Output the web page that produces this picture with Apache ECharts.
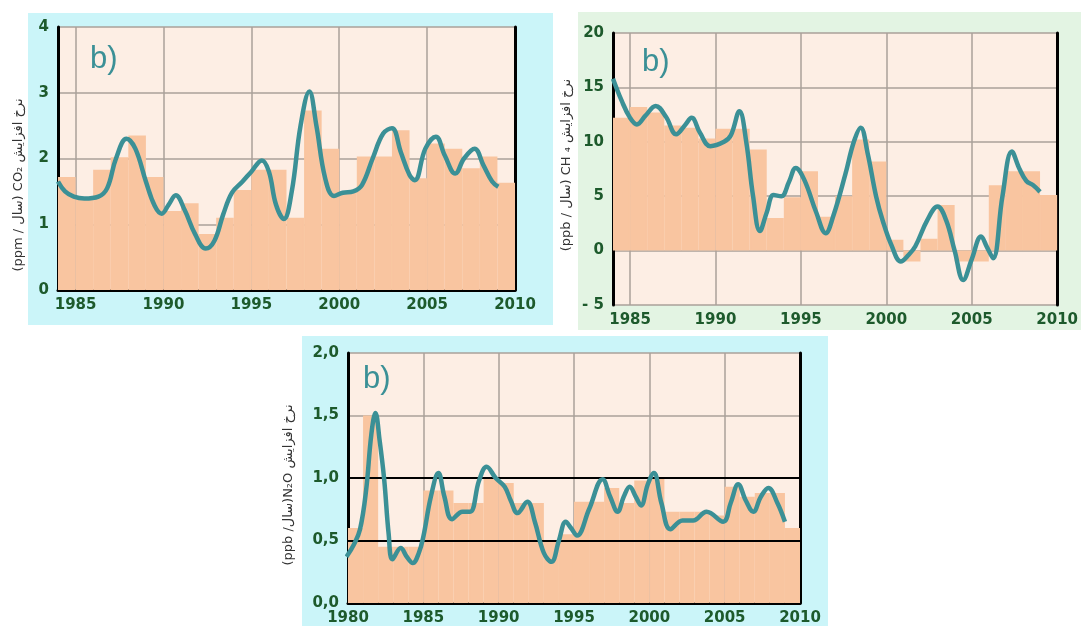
<!DOCTYPE html>
<html>
	<head>
		<meta charset="UTF-8">
		<title></title>
		<script src="https://cdn.jsdelivr.net/npm/echarts@6/dist/echarts.min.js"></script>
		<style>
			body { margin: 0; background: #fff; }
		</style>
	</head>
	<body>
		<div id="chart" style="width: 1081px;height:626px;"></div>
	</body>
</html>

<script type="text/javascript">
	// CO2 - yearly bars and smoothed curve
	var coBarYears = [1984, 1985, 1986, 1987, 1988, 1989, 1990, 1991, 1992, 1993, 1994, 1995, 1996,
		1997, 1998, 1999, 2000, 2001, 2002, 2003, 2004, 2005, 2006, 2007, 2008, 2009];
	var coBarValues = [1.72, 1.40, 1.83, 2.02, 2.35, 1.72, 1.20, 1.32, 0.85, 1.10, 1.52, 1.83, 1.83,
		1.10, 2.73, 2.15, 1.50, 2.03, 2.03, 2.43, 1.70, 2.23, 2.15, 1.85, 2.03, 1.63];
	var coLineYears = [1984.0, 1984.4, 1984.9, 1985.5, 1986.3, 1986.8, 1987.3, 1987.9, 1988.4, 1989.0,
		1989.5, 1989.9, 1990.3, 1990.7, 1991.2, 1991.8, 1992.4, 1992.9, 1993.4, 1993.9, 1994.5, 1995.0,
		1995.6, 1996.0, 1996.4, 1996.85, 1997.3, 1997.8, 1998.3, 1998.7, 1999.2, 1999.7, 2000.2, 2000.8,
		2001.3, 2001.9, 2002.5, 2003.0, 2003.5, 2004.0, 2004.3, 2004.9, 2005.5, 2006.0, 2006.6, 2007.1,
		2007.7, 2008.2, 2008.7, 2009.05];
	var coLineValues = [1.65, 1.50, 1.42, 1.39, 1.42, 1.55, 2.00, 2.30, 2.15, 1.65,
		1.28, 1.16, 1.30, 1.44, 1.22, 0.85, 0.63, 0.75, 1.15, 1.48, 1.65, 1.80,
		1.97, 1.80, 1.30, 1.08, 1.50, 2.50, 3.02, 2.50, 1.70, 1.43, 1.48, 1.50,
		1.60, 2.00, 2.38, 2.46, 2.10, 1.75, 1.67, 2.15, 2.33, 2.05, 1.77, 2.00,
		2.15, 1.90, 1.65, 1.57];

	// CH4
	var chBarYears = coBarYears;
	var chBarValues = [12.2, 13.2, 12.7, 11.5, 11.3, 10.3, 11.2, 11.2, 9.3, 3.0, 4.9, 7.3, 3.1,
		5.0, 10.2, 8.2, 1.0, -1.0, 1.1, 4.2, -1.0, -1.0, 6.0, 7.3, 7.3, 5.1];
	var chLineYears = [1984.0, 1984.5, 1985.0, 1985.4, 1985.9, 1986.5, 1987.1, 1987.7, 1988.2, 1988.6,
		1989.1, 1989.7, 1990.5, 1990.9, 1991.4, 1991.8, 1992.2, 1992.6, 1993.0, 1993.4, 1993.85, 1994.3,
		1994.7, 1995.2, 1995.9, 1996.45, 1996.9, 1997.6, 1998.1, 1998.5, 1998.9, 1999.4, 1999.8, 2000.3,
		2000.85, 2001.3, 2001.7, 2002.4, 2003.0, 2003.5, 2004.0, 2004.5, 2005.0, 2005.55, 2005.9, 2006.25,
		2006.8, 2007.35, 2007.8, 2008.2, 2008.6, 2009.0];
	var chLineValues = [15.8, 13.8, 12.2, 11.6, 12.4, 13.3, 12.3, 10.7, 11.5, 12.2,
		10.8, 9.6, 10.0, 10.6, 12.8, 10.0, 5.0, 1.8, 3.5, 5.1, 5.0, 6.3,
		7.6, 6.5, 3.5, 1.6, 3.2, 7.0, 10.0, 11.3, 9.0, 5.0, 2.7, 0.5,
		-1.0, -0.4, 0.4, 2.8, 4.05, 2.8, 0.0, -2.7, -0.8, 1.3, 0.3, -0.7,
		5.0, 9.1, 7.5, 6.4, 6.0, 5.4];

	// N2O
	var n2BarYears = [1980, 1981, 1982, 1983, 1984, 1985, 1986, 1987, 1988, 1989, 1990, 1991, 1992, 1993,
		1994, 1995, 1996, 1997, 1998, 1999, 2000, 2001, 2002, 2003, 2004, 2005, 2006, 2007, 2008, 2009];
	var n2BarValues = [0.60, 1.50, 0.45, 0.45, 0.45, 0.90, 0.90, 0.80, 0.80, 1.00, 0.96, 0.80, 0.80, 0.50,
		0.55, 0.81, 0.81, 0.92, 0.80, 0.98, 1.00, 0.73, 0.73, 0.73, 0.70, 0.93, 0.85, 0.88, 0.88, 0.60];
	var n2LineYears = [1979.9, 1980.4, 1980.8, 1981.2, 1981.55, 1981.82, 1982.1, 1982.4, 1982.7, 1982.95,
		1983.5, 1983.9, 1984.3, 1984.7, 1985.0, 1985.5, 1986.0, 1986.4, 1986.9, 1987.6, 1988.1, 1988.7,
		1989.2, 1989.8, 1990.4, 1990.8, 1991.25, 1991.9, 1992.4, 1993.0, 1993.5, 1994.0, 1994.45, 1994.8,
		1995.2, 1996.0, 1996.9, 1997.4, 1997.9, 1998.3, 1998.7, 1999.1, 1999.45, 1999.9, 2000.3, 2000.8,
		2001.4, 2002.2, 2002.9, 2003.8, 2004.9, 2005.4, 2005.9, 2006.4, 2006.9, 2007.4, 2007.9, 2008.5, 2009.0];
	var n2LineValues = [0.37, 0.47, 0.59, 0.90, 1.35, 1.52, 1.30, 0.99, 0.55, 0.35,
		0.44, 0.37, 0.32, 0.40, 0.53, 0.85, 1.04, 0.85, 0.67, 0.73, 0.73, 0.98,
		1.09, 1.00, 0.93, 0.82, 0.72, 0.81, 0.65, 0.40, 0.33, 0.50, 0.65, 0.60,
		0.54, 0.75, 0.99, 0.85, 0.73, 0.85, 0.93, 0.85, 0.78, 0.95, 1.04, 0.80,
		0.59, 0.66, 0.66, 0.73, 0.65, 0.80, 0.95, 0.82, 0.73, 0.85, 0.92, 0.80, 0.65];
	var n2RefLines = [0.5, 1.0];

	var xTicks = [1985, 1990, 1995, 2000, 2005, 2010];

	var lineColor = '#3b9096';
	var barColor = '#f9c5a0';
	var labelColor = '#1d5a2c';
	var gridColor = '#aaa09a';

	function pairs(xs, ys, shift) {
		return xs.map(function (x, i) { return [x + (shift || 0), ys[i]]; });
	}

	var labelStyle = { color: labelColor, fontFamily: 'DejaVu Sans', fontWeight: 'bold', fontSize: 15 };

	function xAxisOf(grid, min, black, custom) {
		var ax = {
			type: 'value', gridIndex: grid, min: min, max: 2010,
			axisLine: { show: black, onZero: false, lineStyle: { color: '#000', width: 3 } },
			axisTick: { show: false },
			axisLabel: Object.assign({ margin: 8, formatter: function (v) { return '' + v; } }, labelStyle),
			splitLine: { show: true, lineStyle: { color: gridColor, width: 1.5 } }
		};
		if (custom) {
			ax.axisLabel.customValues = xTicks;
			ax.axisTick.customValues = xTicks;
		} else {
			ax.interval = 5;
		}
		return ax;
	}

	function yAxesOf(grid, min, max, interval, fmt) {
		return [{
			type: 'value', gridIndex: grid, min: min, max: max, interval: interval,
			axisLine: { show: true, lineStyle: { color: '#000', width: 3 } },
			axisTick: { show: false },
			axisLabel: Object.assign({ margin: 9, formatter: fmt }, labelStyle),
			splitLine: { show: true, lineStyle: { color: gridColor, width: 1.5 } }
		}, {
			type: 'value', gridIndex: grid, min: min, max: max, interval: interval, position: 'right',
			axisLine: { show: true, lineStyle: { color: '#000', width: 3 } },
			axisTick: { show: false }, axisLabel: { show: false }, splitLine: { show: false }
		}];
	}

	function barSeries(i, data) {
		return {
			type: 'bar', xAxisIndex: i, yAxisIndex: i * 2, data: data, barCategoryGap: '0%',
			itemStyle: { color: barColor, borderColor: barColor, borderWidth: 1.6 }, silent: true
		};
	}

	function lineSeries(i, data) {
		return {
			type: 'line', xAxisIndex: i, yAxisIndex: i * 2, data: data, smooth: 0.4,
			symbol: 'none', lineStyle: { color: lineColor, width: 4.5 }, z: 5, silent: true
		};
	}

	var nameStyle = { fill: '#333', font: '13px "DejaVu Sans"', align: 'center', verticalAlign: 'middle' };
	var bStyle = { fill: lineColor, font: '31px "Liberation Sans"' };

	var n2Line = lineSeries(2, pairs(n2LineYears, n2LineValues));
	n2Line.markLine = {
		silent: true, symbol: 'none', label: { show: false },
		lineStyle: { color: '#000', width: 2, type: 'solid' },
		data: n2RefLines.map(function (v) { return { yAxis: v }; })
	};

	var chart = echarts.init(document.getElementById('chart'));
	chart.setOption({
		animation: false,
		graphic: [
			// panel backgrounds
			{ type: 'rect', z: -10, shape: { x: 28, y: 13, width: 525, height: 312 }, style: { fill: '#cbf5f9' } },
			{ type: 'rect', z: -10, shape: { x: 578, y: 12, width: 503, height: 318 }, style: { fill: '#e3f4e3' } },
			{ type: 'rect', z: -10, shape: { x: 302, y: 336, width: 526, height: 290 }, style: { fill: '#cbf5f9' } },
			// panel marks
			{ type: 'text', z: 10, x: 90, y: 44, style: Object.assign({ text: 'b)' }, bStyle) },
			{ type: 'text', z: 10, x: 642, y: 47, style: Object.assign({ text: 'b)' }, bStyle) },
			{ type: 'text', z: 10, x: 363, y: 364, style: Object.assign({ text: 'b)' }, bStyle) },
			// axis names
			{ type: 'text', z: 10, x: 19, y: 185, rotation: Math.PI / 2, style: Object.assign({ text: '(ppm / سال) CO₂ نرخ افزایش' }, nameStyle) },
			{ type: 'text', z: 10, x: 567, y: 165, rotation: Math.PI / 2, style: Object.assign({ text: '(ppb / سال) CH ₄ نرخ افزایش' }, nameStyle) },
			{ type: 'text', z: 10, x: 289, y: 485, rotation: Math.PI / 2, style: Object.assign({ text: '(ppb /سال)N₂O نرخ افزایش' }, nameStyle) }
		],
		grid: [
			{ left: 58, top: 27, width: 457, height: 263, show: true, backgroundColor: '#fdeee4', borderWidth: 0 },
			{ left: 613, top: 33, width: 452, height: 272, show: true, backgroundColor: '#fdeee4', borderWidth: 0 },
			{ left: 348, top: 353, width: 452, height: 250, show: true, backgroundColor: '#fdeee4', borderWidth: 0 }
		],
		xAxis: [
			xAxisOf(0, 1984, true, true),
			xAxisOf(1, 1984, false, true),
			xAxisOf(2, 1980, true, false)
		],
		yAxis: [].concat(
			yAxesOf(0, 0, 4, 1),
			yAxesOf(1, -5, 20, 5, function (v) { return v < 0 ? '- ' + (-v) : '' + v; }),
			yAxesOf(2, 0, 2, 0.5, function (v) { return v.toFixed(1).replace('.', ','); })
		),
		series: [
			barSeries(0, pairs(coBarYears, coBarValues, 0.5)),
			lineSeries(0, pairs(coLineYears, coLineValues)),
			barSeries(1, pairs(chBarYears, chBarValues, 0.5)),
			lineSeries(1, pairs(chLineYears, chLineValues)),
			barSeries(2, pairs(n2BarYears, n2BarValues, 0.5)),
			n2Line
		]
	});
</script>
